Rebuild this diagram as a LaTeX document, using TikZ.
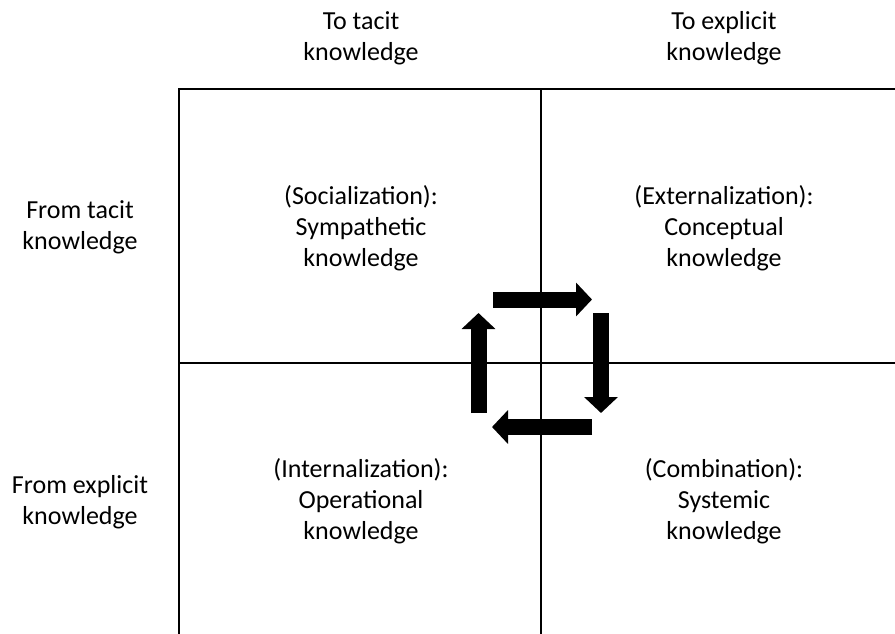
\documentclass[tikz,border=0pt]{standalone}
\usepackage{fontspec}
\setmainfont{Carlito}
\usetikzlibrary{arrows.meta}
\tikzset{
  label/.style={align=center,font=\fontsize{26}{31}\selectfont},
  grid/.style={line width=1.6pt},
  cycle/.style={line width=16pt,-{Triangle[length=16pt,width=33pt]}}
}
\begin{document}
\begin{tikzpicture}[x=1pt,y=-1pt]
\useasboundingbox (0,0) rectangle (895,634);
% grid
\coordinate (TL) at (179,89);
\coordinate (TR) at (895,89);
\coordinate (BL) at (179,634);
\coordinate (TM) at (541,89);
\coordinate (BM) at (541,634);
\coordinate (ML) at (179,363);
\coordinate (MR) at (895,363);
\draw[grid] (BL) -- (TL) -- (TR);
\draw[grid] (TM) -- (BM);
\draw[grid] (ML) -- (MR);
% headings
\node[label] (tacitTo) at (361,38) {To tacit\\knowledge};
\node[label] (explicitTo) at (724,38) {To explicit\\knowledge};
\node[label] (tacitFrom) at (80,227) {From tacit\\knowledge};
\node[label] (explicitFrom) at (80,502) {From explicit\\knowledge};
% cells
\node[label] (soc) at (361,228) {(Socialization):\\Sympathetic\\knowledge};
\node[label] (ext) at (724,228) {(Externalization):\\Conceptual\\knowledge};
\node[label] (int) at (361,501) {(Internalization):\\Operational\\knowledge};
\node[label] (com) at (724,501) {(Combination):\\Systemic\\knowledge};
% arrows
\coordinate (a1) at (493,299.5);
\coordinate (a2) at (592,299.5);
\coordinate (b1) at (601,313);
\coordinate (b2) at (601,413);
\coordinate (c1) at (592,427);
\coordinate (c2) at (492,427);
\coordinate (d1) at (478.5,413);
\coordinate (d2) at (478.5,313);
\draw[cycle] (a1) -- (a2);
\draw[cycle] (b1) -- (b2);
\draw[cycle] (c1) -- (c2);
\draw[cycle] (d1) -- (d2);
\end{tikzpicture}
\end{document}
